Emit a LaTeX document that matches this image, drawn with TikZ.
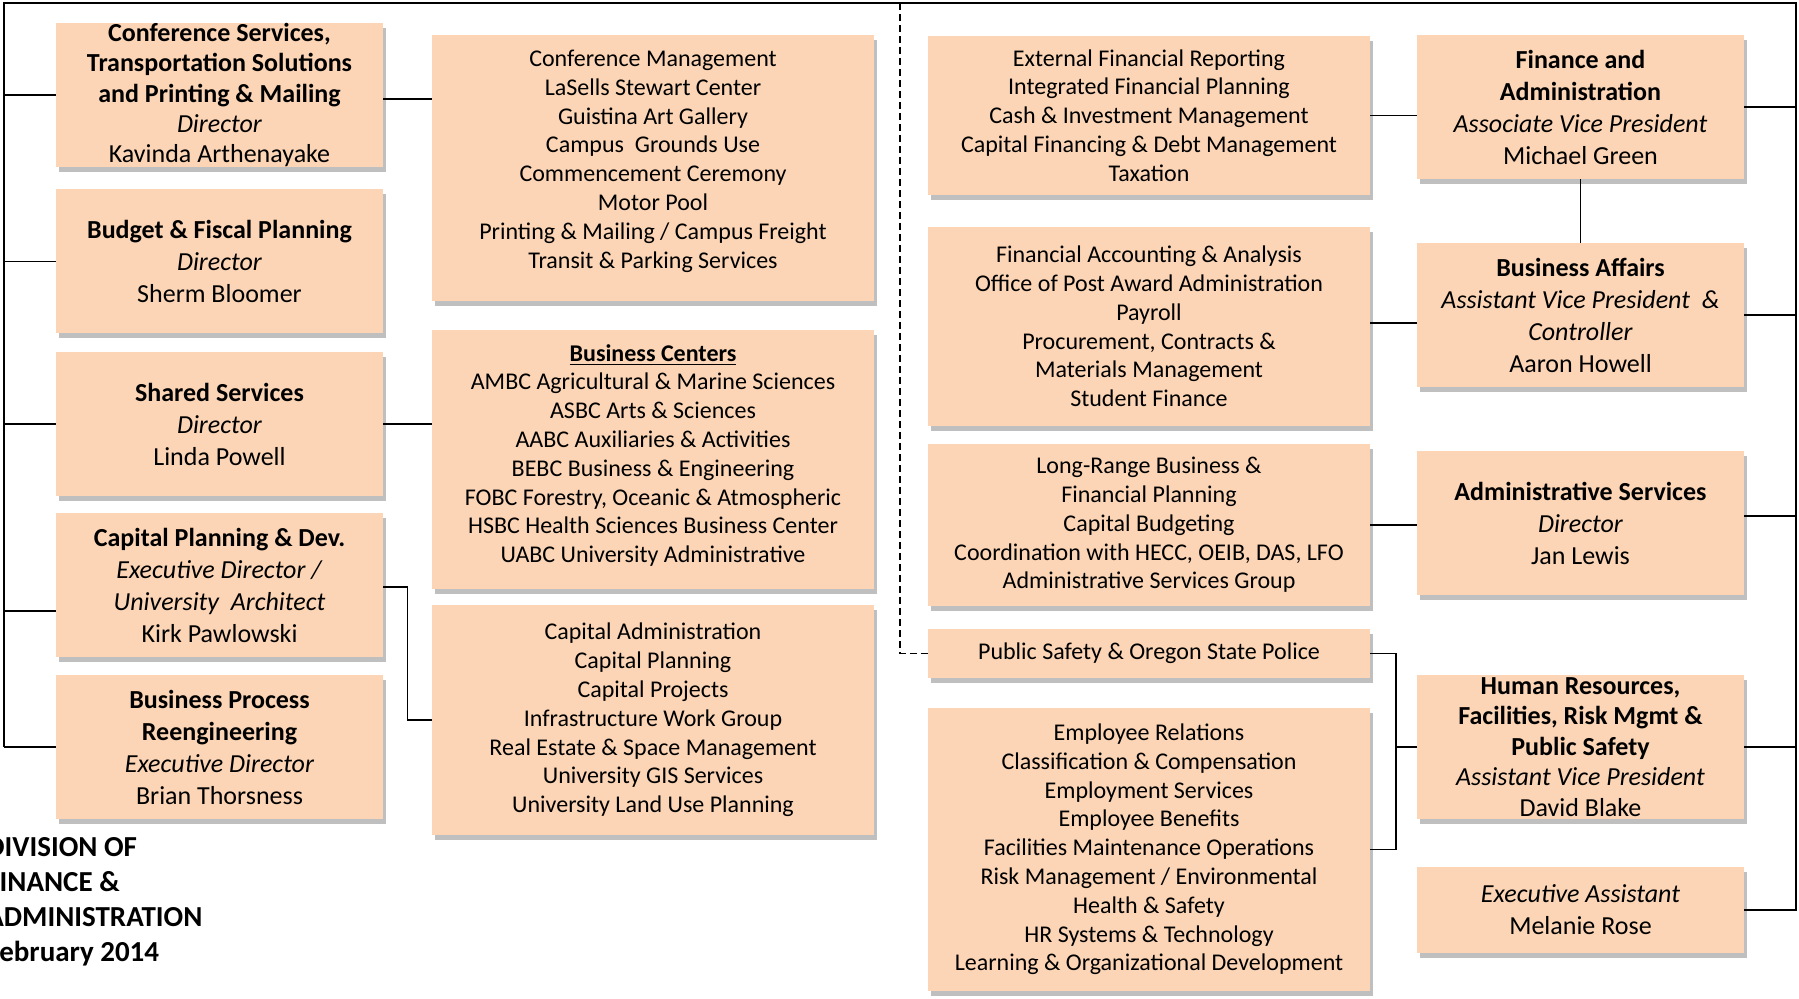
\documentclass[tikz,border=0pt]{standalone}
\usepackage{fontspec}
\setmainfont{Carlito}
\usepackage{tikz}
\usetikzlibrary{shadows,calc}
\definecolor{peach}{HTML}{FBD5B5}
\definecolor{shadowgray}{HTML}{BFBFBF}

\begin{document}
\begin{tikzpicture}[
  x=0.5pt, y=-0.5pt,
  unitbox/.style={rectangle, fill=peach, general shadow={fill=shadowgray, shadow xshift=1.5pt, shadow yshift=-2.5pt}, align=center, inner sep=0pt},
  headbox/.style={unitbox, minimum width=163.5pt, minimum height=72pt, font=\fontsize{13}{16}\selectfont},
  listbox/.style={unitbox, minimum width=221pt, font=\fontsize{12}{14.4}\selectfont},
  conn/.style={line width=0.7pt},
  outline/.style={line width=1pt},
  dashlink/.style={line width=0.7pt, dash pattern=on 3.5pt off 2pt},
  division/.style={anchor=north west, align=left, inner sep=0pt, font=\fontsize{14.5}{17.5}\selectfont\bfseries}
]
  \clip (0,0) rectangle (1799,999);

  % Directors (left)
  \node[headbox, font=\fontsize{13}{15.2}\selectfont] (conf) at (219.5,95) {\textbf{Conference Services,}\\\textbf{Transportation Solutions}\\\textbf{and Printing \& Mailing}\\\textit{Director}\\Kavinda Arthenayake};
  \node[headbox] (budget) at (219.5,261.5) {\textbf{Budget \& Fiscal Planning}\\\textit{Director}\\Sherm Bloomer};
  \node[headbox] (shared) at (219.5,424) {\textbf{Shared Services}\\\textit{Director}\\Linda Powell};
  \node[headbox] (cap) at (219.5,585) {\textbf{Capital Planning \& Dev.}\\\textit{Executive Director /}\\\textit{University~ Architect}\\Kirk Pawlowski};
  \node[headbox] (bpr) at (219.5,747) {\textbf{Business Process}\\\textbf{Reengineering}\\\textit{Executive Director}\\Brian Thorsness};

  % Units (middle left)
  \node[listbox, minimum height=133pt] (mgmt) at (653,168) {Conference Management\\LaSells Stewart Center\\Guistina Art Gallery\\Campus~ Grounds Use\\Commencement Ceremony\\Motor Pool\\Printing \& Mailing / Campus Freight\\Transit \& Parking Services\rule[-9pt]{0pt}{0pt}};
  \node[listbox, minimum height=129.5pt] (centers) at (653,459.5) {\textbf{\underline{Business Centers}}\\AMBC Agricultural \& Marine Sciences\\ASBC Arts \& Sciences\\AABC Auxiliaries \& Activities\\BEBC Business \& Engineering\\FOBC Forestry, Oceanic \& Atmospheric\\HSBC Health Sciences Business Center\\UABC University Administrative\rule[-6pt]{0pt}{0pt}};
  \node[listbox, minimum height=115pt] (capadm) at (653,720) {Capital Administration\\Capital Planning\\Capital Projects\\Infrastructure Work Group\\Real Estate \& Space Management\\University GIS Services\\University Land Use Planning};

  % Units (middle right)
  \node[listbox, minimum height=79.5pt] (extfin) at (1149,115.5) {External Financial Reporting\\Integrated Financial Planning\\Cash \& Investment Management\\Capital Financing \& Debt Management\\Taxation};
  \node[listbox, minimum height=99.5pt] (finacc) at (1149,326.5) {Financial Accounting \& Analysis\\Office of Post Award Administration\\Payroll\\Procurement, Contracts \&\\Materials Management\\Student Finance};
  \node[listbox, minimum height=81pt] (lrplan) at (1149,525) {Long-Range Business \&\\Financial Planning\\Capital Budgeting\\Coordination with HECC, OEIB, DAS, LFO\\Administrative Services Group};
  \node[listbox, minimum height=24.5pt] (pubsafe) at (1149,653.5) {Public Safety \& Oregon State Police};
  \node[listbox, minimum height=141.5pt] (hrlist) at (1149,849.5) {Employee Relations\\Classification \& Compensation\\Employment Services\\Employee Benefits\\Facilities Maintenance Operations\\Risk Management / Environmental\\Health \& Safety\\HR Systems \& Technology\\Learning \& Organizational Development};

  % Vice presidents (right)
  \node[headbox] (fa) at (1580.5,107) {\textbf{Finance and}\\\textbf{Administration}\\\textit{Associate Vice President}\\Michael Green};
  \node[headbox] (ba) at (1580.5,315) {\textbf{Business Affairs}\\\textit{Assistant Vice President~ \&}\\\textit{Controller}\\Aaron Howell};
  \node[headbox] (admsvc) at (1580.5,523) {\textbf{Administrative Services}\\\textit{Director}\\Jan Lewis};
  \node[headbox, font=\fontsize{13}{15.2}\selectfont] (hr) at (1580.5,747) {\textbf{Human Resources,}\\\textbf{Facilities, Risk Mgmt \&}\\\textbf{Public Safety}\\\textit{Assistant Vice President}\\David Blake};
  \node[headbox, minimum height=43pt] (ea) at (1580.5,910) {\textit{Executive Assistant}\\Melanie Rose};

  % Title
  \node[division] (title) at (-14,837) {DIVISION OF\\FINANCE \&\\ADMINISTRATION\\February 2014};

  % Frame
  \coordinate (ltop) at (4,3);
  \coordinate (rtop) at (1796,3);
  \coordinate (dtop) at (900,3);
  \coordinate (brk) at (1396,653.5);
  \draw[outline] (ltop |- bpr.west) -- (ltop) -- (rtop) |- (ea.east);

  % Left connectors
  \draw[conn] (ltop |- conf.west) -- (conf.west);
  \draw[conn] (ltop |- budget.west) -- (budget.west);
  \draw[conn] (ltop |- shared.west) -- (shared.west);
  \draw[conn] ([yshift=-13pt]cap.west) -- ++(-52,0);
  \draw[conn] (ltop |- bpr.west) -- (bpr.west);
  \draw[conn] ([yshift=-2pt]conf.east) -- ++(49,0);
  \draw[conn] (shared.east) -- (shared.east -| centers.west);
  \draw[conn] ([yshift=-1pt]cap.east) -- ++(24,0) |- (capadm.west);

  % Right connectors
  \draw[dashlink] (dtop) |- (pubsafe.west);
  \draw[conn] (extfin.east) -- (extfin.east -| fa.west);
  \draw[conn] (fa.south) -- (ba.north);
  \draw[conn] ([yshift=-4pt]ba.west) -- ([yshift=-4pt]ba.west -| finacc.east);
  \draw[conn] (lrplan.east) -- (lrplan.east -| admsvc.west);
  \draw[conn] (pubsafe.east) -- (brk) |- (hrlist.east);
  \draw[conn] (hr.west) -- (hr.west -| brk);
  \draw[conn] (fa.east) -- (fa.east -| rtop);
  \draw[conn] (ba.east) -- (ba.east -| rtop);
  \draw[conn] ([yshift=3.5pt]admsvc.east) -- ++(52,0);
  \draw[conn] (hr.east) -- (hr.east -| rtop);
\end{tikzpicture}
\end{document}
